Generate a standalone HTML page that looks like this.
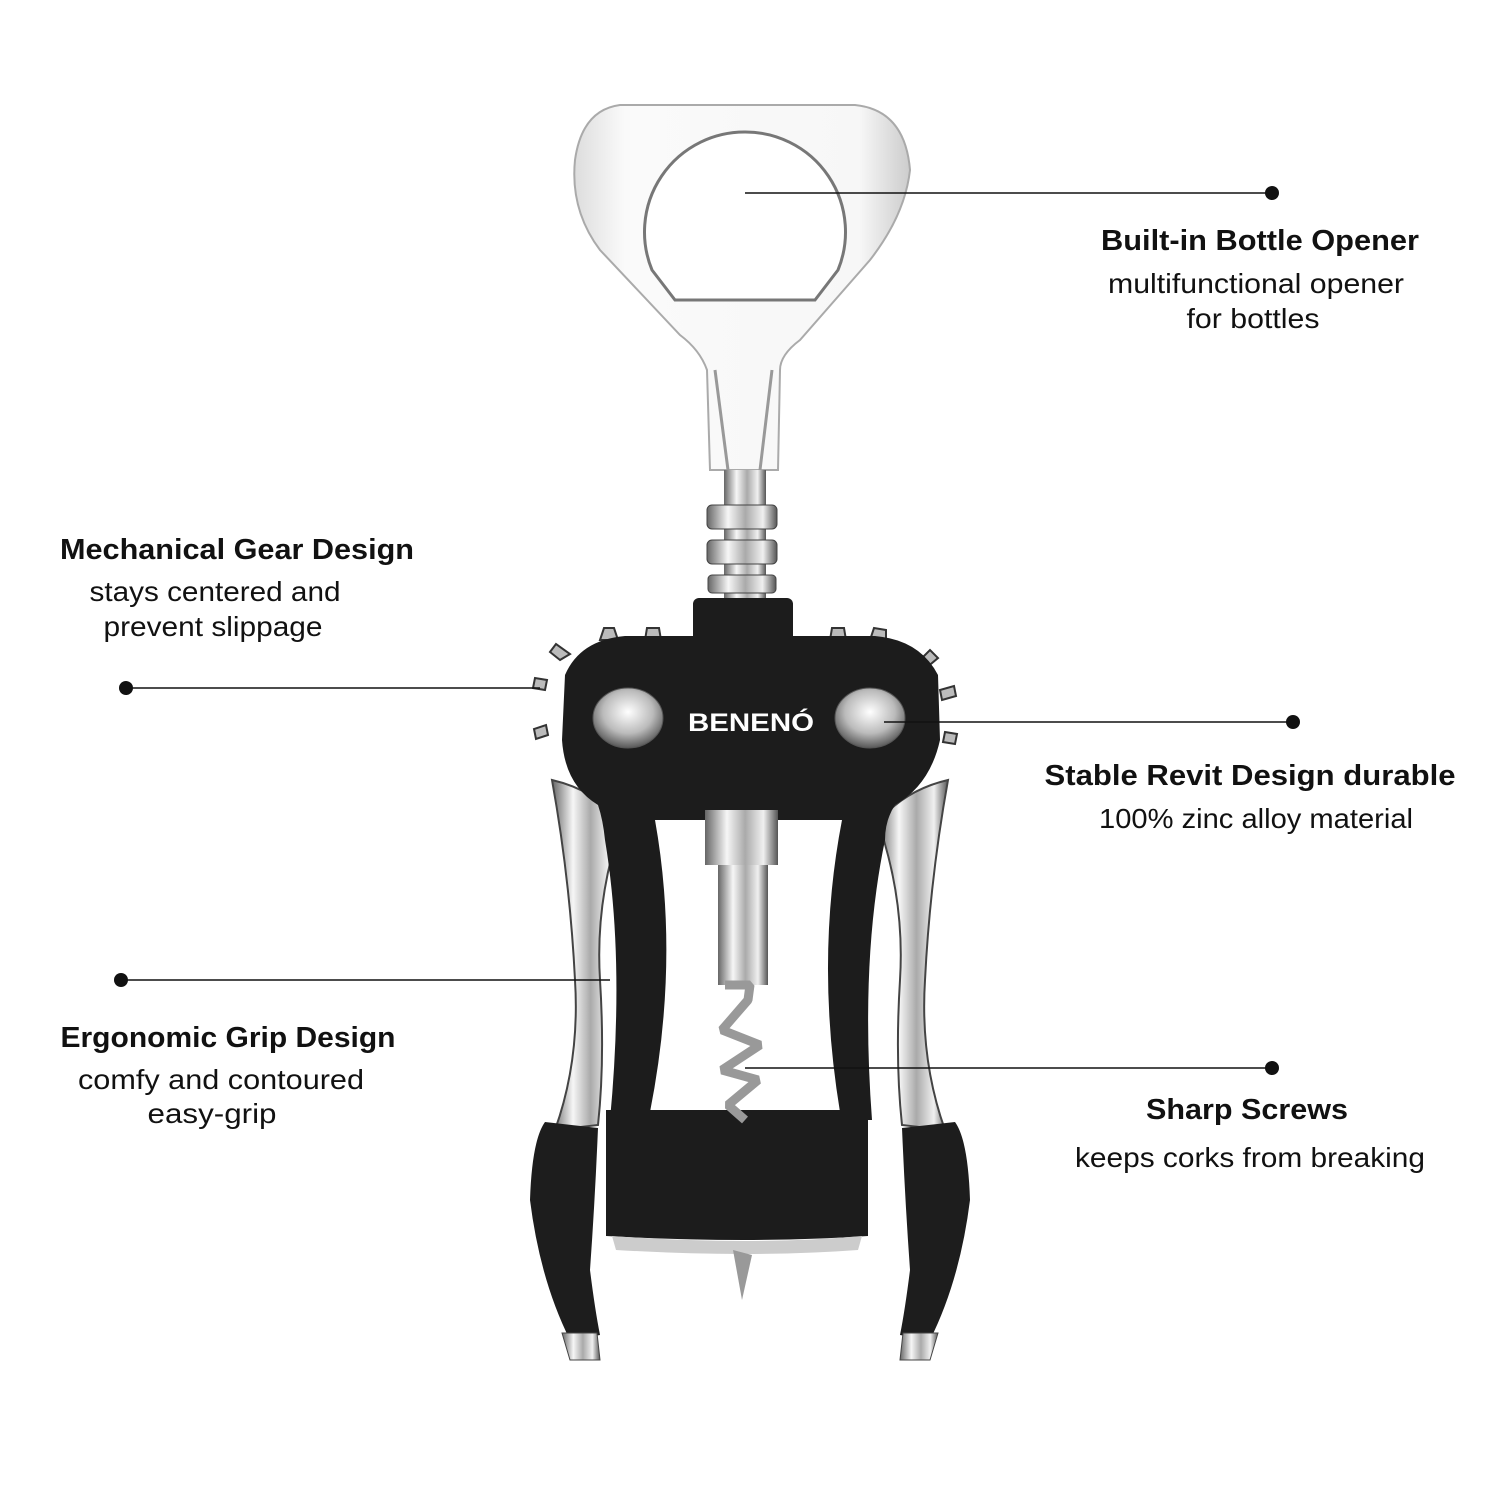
<!DOCTYPE html>
<html><head><meta charset="utf-8"><style>
html,body{margin:0;padding:0;background:#fff}
body{width:1500px;height:1500px;overflow:hidden}
text{font-family:"Liberation Sans",sans-serif;fill:#111}
.h{font-weight:bold;font-size:29px}
.s{font-size:28px}
</style></head><body>
<svg width="1500" height="1500" style="position:absolute;left:0;top:0">
<defs>
<linearGradient id="m" x1="0" x2="1"><stop offset="0" stop-color="#666"/><stop offset=".3" stop-color="#f6f6f6"/><stop offset=".55" stop-color="#aaa"/><stop offset=".8" stop-color="#f0f0f0"/><stop offset="1" stop-color="#555"/></linearGradient>
<linearGradient id="o" x1="0" x2="1"><stop offset="0" stop-color="#ddd"/><stop offset=".15" stop-color="#fafafa"/><stop offset=".85" stop-color="#f7f7f7"/><stop offset="1" stop-color="#ccc"/></linearGradient>
<radialGradient id="r" cx=".5" cy=".4" r=".65"><stop offset="0" stop-color="#fff"/><stop offset=".55" stop-color="#bbb"/><stop offset="1" stop-color="#444"/></radialGradient>
</defs>
<!-- bottle opener -->
<path d="M620,105 L855,105 Q905,110 910,170 Q905,215 870,260 L800,340 Q780,355 780,370 L778,470 L710,470 L707,370 Q700,350 680,335 L600,250 Q570,210 575,160 Q582,110 620,105Z" fill="url(#o)" stroke="#aaa" stroke-width="2"/>
<path d="M745,132 A100,100 0 0 1 838,270 L815,300 L675,300 L652,270 A100,100 0 0 1 745,132Z" fill="#fff" stroke="#777" stroke-width="3"/>
<path d="M715,370 L728,470 M772,370 L760,470" stroke="#999" stroke-width="3"/>
<!-- spring -->
<rect x="724" y="470" width="42" height="130" fill="url(#m)"/>
<rect x="707" y="505" width="70" height="24" rx="5" fill="url(#m)" stroke="#444"/>
<rect x="707" y="540" width="70" height="24" rx="5" fill="url(#m)" stroke="#444"/>
<rect x="708" y="575" width="68" height="18" rx="4" fill="url(#m)" stroke="#444"/>
<!-- gear teeth -->
<g fill="#bbb" stroke="#333" stroke-width="2">
<path d="M600,640 l4,-12 l10,0 l4,12Z"/><path d="M645,640 l2,-12 l12,0 l2,12Z"/><path d="M560,660 l-10,-8 l6,-8 l14,10Z"/><path d="M545,690 l-12,-2 l2,-10 l12,2Z"/><path d="M548,735 l-12,4 l-2,-10 l12,-4Z"/>
<path d="M830,640 l2,-12 l12,0 l2,12Z"/><path d="M870,640 l4,-12 l12,2 l0,12Z"/><path d="M920,660 l10,-10 l8,8 l-12,10Z"/><path d="M940,690 l14,-4 l2,10 l-14,4Z"/><path d="M945,732 l12,2 l-2,10 l-12,-2Z"/>
</g>
<!-- silver arms -->
<path d="M552,780 Q595,790 622,822 Q595,900 600,980 Q605,1060 598,1125 L555,1130 Q580,1060 575,980 Q570,880 552,780Z" fill="url(#m)" stroke="#444" stroke-width="2"/>
<path d="M948,780 Q905,790 878,822 Q905,900 900,980 Q895,1060 902,1125 L945,1130 Q920,1060 925,980 Q930,880 948,780Z" fill="url(#m)" stroke="#444" stroke-width="2"/>
<!-- grips -->
<path d="M545,1122 L598,1128 Q595,1200 590,1270 Q595,1310 600,1335 L570,1340 Q540,1280 530,1200 Q532,1140 545,1122Z" fill="#1d1d1d"/>
<path d="M955,1122 L902,1128 Q905,1200 910,1270 Q905,1310 900,1335 L930,1340 Q960,1280 970,1200 Q968,1140 955,1122Z" fill="#1d1d1d"/>
<path d="M562,1333 L597,1333 L600,1360 L570,1360Z" fill="url(#m)" stroke="#444"/>
<path d="M938,1333 L903,1333 L900,1360 L930,1360Z" fill="url(#m)" stroke="#444"/>
<!-- black body -->
<rect x="693" y="598" width="100" height="46" rx="6" fill="#1c1c1c"/>
<path d="M565,675 Q580,640 625,636 L875,636 Q920,640 938,675 L940,740 Q930,785 895,805 Q885,820 885,840 Q860,960 872,1120 L610,1120 Q625,960 605,840 Q603,820 598,805 Q565,785 562,740Z" fill="#1c1c1c"/>
<path d="M655,820 L842,820 Q815,960 840,1112 L650,1112 Q680,960 655,820Z" fill="#fff"/>
<path d="M606,1110 L868,1110 L868,1236 Q750,1244 606,1236Z" fill="#1c1c1c"/>
<path d="M612,1236 Q750,1246 862,1236 L858,1250 Q750,1258 616,1250Z" fill="#ccc"/>
<!-- rivets -->
<ellipse cx="628" cy="718" rx="35" ry="30" fill="url(#r)" stroke="#555"/>
<ellipse cx="870" cy="718" rx="35" ry="30" fill="url(#r)" stroke="#555"/>
<text x="751" y="731" style="fill:#fff;font-weight:bold;font-size:25px" text-anchor="middle" textLength="126" lengthAdjust="spacingAndGlyphs">BENENÓ</text>
<!-- shaft + screw -->
<rect x="705" y="810" width="73" height="55" fill="url(#m)"/>
<rect x="718" y="865" width="50" height="120" fill="url(#m)"/>
<path d="M725,985 L750,985 L748,1000 L722,1030 L760,1045 L722,1070 L758,1080 L728,1105 L745,1120" fill="none" stroke="#999" stroke-width="9" stroke-linejoin="bevel"/>
<path d="M733,1250 L742,1300 L752,1255Z" fill="#999"/>
<!-- annotation lines -->
<g stroke="#111" stroke-width="1.5">
<line x1="745" y1="193" x2="1272" y2="193"/>
<line x1="126" y1="688" x2="540" y2="688"/>
<line x1="884" y1="722" x2="1293" y2="722"/>
<line x1="121" y1="980" x2="610" y2="980"/>
<line x1="745" y1="1068" x2="1272" y2="1068"/>
</g>
<g fill="#111">
<circle cx="1272" cy="193" r="7"/><circle cx="126" cy="688" r="7"/><circle cx="1293" cy="722" r="7"/><circle cx="121" cy="980" r="7"/><circle cx="1272" cy="1068" r="7"/>
</g>
<!-- labels -->
<g text-anchor="middle">
<text class="h" x="1260" y="250" textLength="318" lengthAdjust="spacingAndGlyphs">Built-in Bottle Opener</text>
<text class="s" x="1256" y="293" textLength="296" lengthAdjust="spacingAndGlyphs">multifunctional opener</text>
<text class="s" x="1253" y="328" textLength="133" lengthAdjust="spacingAndGlyphs">for bottles</text>
<text class="h" x="237" y="559" textLength="354" lengthAdjust="spacingAndGlyphs">Mechanical Gear Design</text>
<text class="s" x="215" y="601" textLength="251" lengthAdjust="spacingAndGlyphs">stays centered and</text>
<text class="s" x="213" y="636" textLength="219" lengthAdjust="spacingAndGlyphs">prevent slippage</text>
<text class="h" x="1250" y="785" textLength="411" lengthAdjust="spacingAndGlyphs">Stable Revit Design  durable</text>
<text class="s" x="1256" y="828" textLength="314" lengthAdjust="spacingAndGlyphs">100% zinc alloy material</text>
<text class="h" x="228" y="1047" textLength="335" lengthAdjust="spacingAndGlyphs">Ergonomic Grip Design</text>
<text class="s" x="221" y="1089" textLength="286" lengthAdjust="spacingAndGlyphs">comfy and contoured</text>
<text class="s" x="212" y="1123" textLength="129" lengthAdjust="spacingAndGlyphs">easy-grip</text>
<text class="h" x="1247" y="1119" textLength="202" lengthAdjust="spacingAndGlyphs">Sharp Screws</text>
<text class="s" x="1250" y="1167" textLength="350" lengthAdjust="spacingAndGlyphs">keeps corks from breaking</text>
</g>
</svg>
</body></html>
